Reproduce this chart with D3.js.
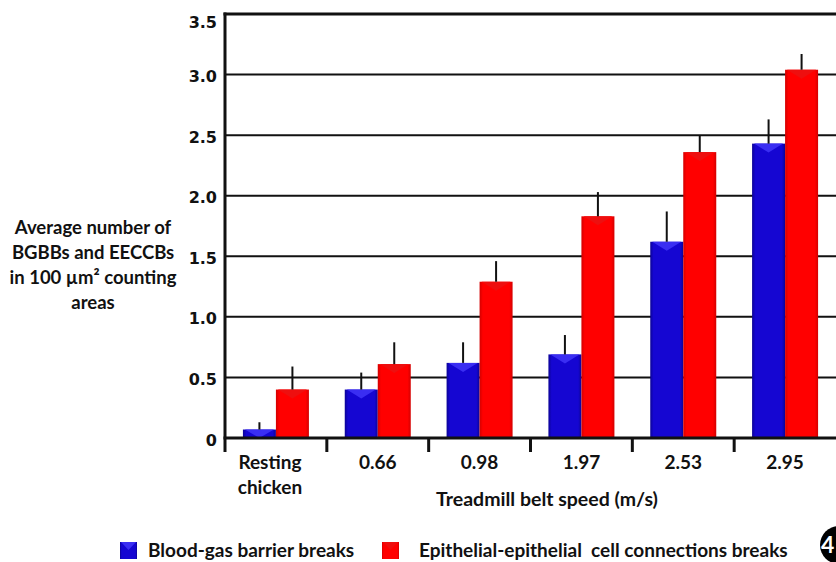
<!DOCTYPE html>
<html>
<head>
<meta charset="utf-8">
<script src="https://cdn.jsdelivr.net/npm/d3@7"></script>
<style>
  html, body { margin: 0; padding: 0; background: #fff; }
  svg { display: block; }
</style>
</head>
<body>
<svg id="chart" width="836" height="562"></svg>
<script>
// ---- data ----
const categories = ["Resting chicken", "0.66", "0.98", "1.97", "2.53", "2.95"];
const seriesNames = ["Blood-gas barrier breaks", "Epithelial-epithelial  cell connections breaks"];
const bgbMeans = [0.07, 0.40, 0.62, 0.69, 1.62, 2.43];
const bgbErrors = [0.06, 0.14, 0.17, 0.16, 0.25, 0.20];
const eecMeans = [0.40, 0.61, 1.29, 1.83, 2.36, 3.04];
const eecErrors = [0.19, 0.18, 0.17, 0.20, 0.14, 0.13];
const yTicks = [0, 0.5, 1.0, 1.5, 2.0, 2.5, 3.0, 3.5];
const yTickLabels = ["0", "0.5", "1.0", "1.5", "2.0", "2.5", "3.0", "3.5"];
const yTitleLines = ["Average number of", "BGBBs and EECCBs", "in 100 \u00b5m\u00b2 counting", "areas"];
const xTitle = "Treadmill belt speed (m/s)";

const colors = ["#1506d2", "#ff0000"];
const bevel = ["#3a2ef2", "#ee0f0f"];
const edge = ["#0c0396", "#d40000"];

(function () {
const svg = d3.select("#chart");
const mLeft = 225, mRight = 836, mTop = 14, mBottom = 438;
const labelFont = "Lato, 'Open Sans', sans-serif";

const y = d3.scaleLinear().domain([0, 3.5]).range([mBottom, mTop]);
const x0 = d3.scaleBand().domain(categories).range([mLeft, mRight]).padding(0);
const pairW = 66;
const x1 = d3.scaleBand().domain([0, 1]).range([0, pairW]).padding(0);
const pairOff = (x0.bandwidth() - pairW) / 2;

// gradients
const defs = svg.append("defs");
[0, 1].forEach(i => {
  const g = defs.append("linearGradient").attr("id", "g" + i)
    .attr("x1", "0%").attr("x2", "100%").attr("y1", "0%").attr("y2", "0%");
  g.append("stop").attr("offset", "0%").attr("stop-color", edge[i]);
  g.append("stop").attr("offset", "10%").attr("stop-color", colors[i]);
  g.append("stop").attr("offset", "90%").attr("stop-color", colors[i]);
  g.append("stop").attr("offset", "100%").attr("stop-color", edge[i]);
});

// gridlines
svg.append("g").selectAll("line")
  .data(yTicks.filter(v => v > 0 && v < 3.5))
  .join("line")
  .attr("x1", mLeft).attr("x2", mRight)
  .attr("y1", d => y(d)).attr("y2", d => y(d))
  .attr("stroke", "#111").attr("stroke-width", 2);

// top frame
svg.append("line").attr("x1", mLeft - 1.5).attr("x2", mRight)
  .attr("y1", y(3.5)).attr("y2", y(3.5))
  .attr("stroke", "#111").attr("stroke-width", 3);

// bars
const series = [
  { means: bgbMeans, errs: bgbErrors },
  { means: eecMeans, errs: eecErrors }
];
const barG = svg.append("g");
series.forEach((s, si) => {
  categories.forEach((c, ci) => {
    const bx = x0(c) + pairOff + x1(si);
    const bw = x1.bandwidth();
    const ty = y(s.means[ci]);
    barG.append("rect").attr("x", bx).attr("y", ty)
      .attr("width", bw).attr("height", y(0) - ty)
      .attr("fill", "url(#g" + si + ")");
    const tri = Math.min(9, (y(0) - ty));
    barG.append("polygon")
      .attr("points", [[bx + 2, ty], [bx + bw - 2, ty], [bx + bw / 2, ty + tri]].map(p => p.join(",")).join(" "))
      .attr("fill", bevel[si]);
    // error bar (upper only)
    barG.append("line")
      .attr("x1", bx + bw / 2).attr("x2", bx + bw / 2)
      .attr("y1", ty).attr("y2", y(s.means[ci] + s.errs[ci]))
      .attr("stroke", "#111").attr("stroke-width", 2);
  });
});

// axes lines
svg.append("line").attr("x1", mLeft).attr("x2", mLeft)
  .attr("y1", mTop - 1.5).attr("y2", mBottom + 14)
  .attr("stroke", "#111").attr("stroke-width", 3);
svg.append("line").attr("x1", mLeft - 1.5).attr("x2", mRight)
  .attr("y1", mBottom).attr("y2", mBottom)
  .attr("stroke", "#111").attr("stroke-width", 3);
// category separators
svg.append("g").selectAll("line")
  .data(categories.slice(1))
  .join("line")
  .attr("x1", d => x0(d)).attr("x2", d => x0(d))
  .attr("y1", mBottom).attr("y2", mBottom + 14)
  .attr("stroke", "#111").attr("stroke-width", 3);

// y tick labels
svg.append("g").selectAll("text")
  .data(yTicks)
  .join("text")
  .attr("x", 217)
  .attr("y", d => Math.max(y(d) + 3, 23))
  .attr("text-anchor", "end")
  .attr("dominant-baseline", "middle")
  .attr("font-family", "'DejaVu Sans', Verdana, sans-serif")
  .attr("font-weight", "bold")
  .attr("font-size", 16)
  .attr("fill", "#111")
  .text((d, i) => yTickLabels[i]);

// x category labels
const catG = svg.append("g");
categories.forEach(c => {
  const words = c === "Resting chicken" ? ["Resting", "chicken"] : [c];
  const cx = x0(c) + x0.bandwidth() / 2 - (words.length > 1 ? 6 : 0);
  const t = catG.append("text")
    .attr("y", 469)
    .attr("text-anchor", "middle")
    .attr("font-family", labelFont)
    .attr("font-weight", "bold")
    .attr("font-size", 19)
    .attr("fill", "#111");
  words.forEach((w, i) => {
    t.append("tspan").attr("x", cx).attr("dy", i === 0 ? 0 : 25).text(w);
  });
});

// x title
svg.append("text")
  .attr("x", 547).attr("y", 506)
  .attr("text-anchor", "middle")
  .attr("font-family", labelFont)
  .attr("font-weight", "bold").attr("font-size", 19.5).attr("fill", "#111")
  .text(xTitle);

// y title
const yt = svg.append("text")
  .attr("text-anchor", "middle")
  .attr("font-family", labelFont)
  .attr("font-weight", "bold").attr("font-size", 18.5).attr("fill", "#111");
yTitleLines.forEach((l, i) => {
  yt.append("tspan").attr("x", 93).attr("y", 234 + i * 25).text(l);
});

// legend
const legX = [120, 382];
const legG = svg.append("g");
seriesNames.forEach((n, i) => {
  legG.append("rect").attr("x", legX[i]).attr("y", 542)
    .attr("width", 17).attr("height", 17).attr("fill", "url(#g" + i + ")");
  legG.append("polygon")
    .attr("points", [[legX[i] + 1, 542], [legX[i] + 16, 542], [legX[i] + 8.5, 550]].map(p => p.join(",")).join(" "))
    .attr("fill", bevel[i]);
  legG.append("text")
    .attr("x", legX[i] + (i === 0 ? 28 : 37)).attr("y", 557)
    .attr("font-family", labelFont)
    .attr("font-weight", "bold").attr("font-size", 19).attr("fill", "#111")
    .style("white-space", "pre")
    .text(n);
});

// panel marker "4"
svg.append("circle").attr("cx", 839).attr("cy", 545).attr("r", 19).attr("fill", "#000");
svg.append("text").attr("x", 821).attr("y", 553)
  .attr("font-family", "Lato, sans-serif").attr("font-weight", "bold")
  .attr("font-size", 23).attr("fill", "#fff").text("4");
})();
</script>
</body>
</html>
